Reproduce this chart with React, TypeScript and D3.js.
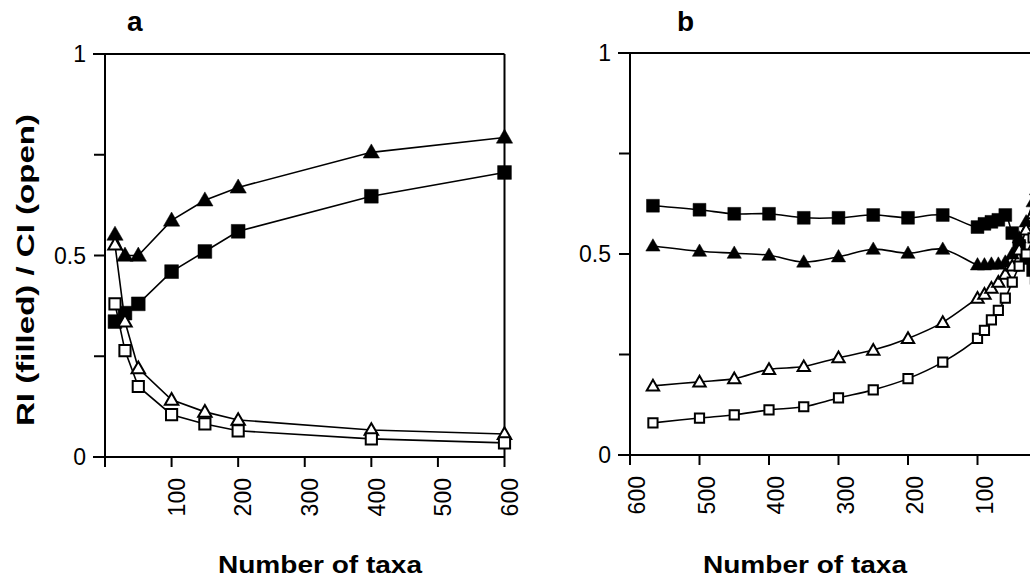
import { useEffect, useRef } from 'react';
import * as d3 from 'd3';

// panel a: taxa sampled upward
const taxaA = [15, 30, 50, 100, 150, 200, 400, 600];
const riTriA = [0.552, 0.5, 0.5, 0.587, 0.637, 0.669, 0.756, 0.793];
const riSqA = [0.336, 0.357, 0.38, 0.46, 0.51, 0.56, 0.647, 0.706];
const ciTriA = [0.527, 0.336, 0.22, 0.142, 0.112, 0.092, 0.067, 0.057];
const ciSqA = [0.38, 0.264, 0.175, 0.105, 0.082, 0.065, 0.045, 0.035];

// panel b: taxa removed downward
const taxaB = [567, 500, 450, 400, 350, 300, 250, 200, 150, 100, 90, 80, 70, 60, 50, 40, 30, 20, 15];
const riSqB = [0.62, 0.61, 0.6, 0.6, 0.59, 0.59, 0.597, 0.59, 0.597, 0.567, 0.575, 0.58, 0.585, 0.597, 0.552, 0.52, 0.49, 0.46, 0.44];
const riTriB = [0.52, 0.507, 0.502, 0.497, 0.48, 0.493, 0.512, 0.502, 0.512, 0.473, 0.473, 0.475, 0.475, 0.48, 0.5, 0.54, 0.58, 0.63, 0.66];
const ciTriB = [0.172, 0.182, 0.19, 0.213, 0.22, 0.242, 0.261, 0.29, 0.33, 0.39, 0.4, 0.415, 0.43, 0.45, 0.47, 0.51, 0.56, 0.6, 0.64];
const ciSqB = [0.08, 0.092, 0.1, 0.112, 0.12, 0.142, 0.162, 0.19, 0.231, 0.29, 0.31, 0.336, 0.36, 0.39, 0.43, 0.47, 0.5, 0.54, 0.57];

const yTicks = [0, 0.25, 0.5, 0.75, 1];
const yTickLabels = ['0', '', '0.5', '', '1'];
const xTicks = [0, 100, 200, 300, 400, 500, 600];
const xTickLabels = ['', '100', '200', '300', '400', '500', '600'];

const FONT = 'Liberation Sans, Arial, Helvetica, sans-serif';

export default function App() {
  const svgRef = useRef<SVGSVGElement>(null);

  useEffect(() => {
    const svg = d3.select(svgRef.current);
    svg.selectAll('*').remove();

    const drawPanel = (p: any) => {
      const g = svg.append('g');
      const x = d3.scaleLinear().domain(p.xDomain).range(p.xRange);
      const y = d3.scaleLinear().domain([0, 1]).range(p.yRange);
      const x0 = p.xRange[0];
      const xR = p.xRange[1];
      const yB = p.yRange[0];
      const yT = p.yRange[1];

      // frame
      const frame = g.append('g').attr('stroke', '#000').attr('stroke-width', 2).attr('fill', 'none');
      frame.append('line').attr('x1', x0).attr('x2', x0).attr('y1', yT).attr('y2', yB + 10);
      frame.append('line').attr('x1', x0 - 12).attr('x2', xR).attr('y1', yB).attr('y2', yB);
      frame.append('line').attr('x1', x0 - 12).attr('x2', xR).attr('y1', yT).attr('y2', yT);
      frame.append('line').attr('x1', xR).attr('x2', xR).attr('y1', yT).attr('y2', yB);

      // y ticks
      yTicks.forEach((t, i) => {
        frame.append('line').attr('x1', x0 - 11).attr('x2', x0).attr('y1', y(t)).attr('y2', y(t));
        if (yTickLabels[i]) {
          g.append('text')
            .attr('x', x0 - 19).attr('y', y(t)).attr('dy', '0.36em')
            .attr('text-anchor', 'end')
            .attr('font-family', FONT).attr('font-size', 23)
            .text(yTickLabels[i]);
        }
      });

      // x ticks
      xTicks.forEach((t, i) => {
        frame.append('line').attr('x1', x(t)).attr('x2', x(t)).attr('y1', yB).attr('y2', yB + 10);
        if (xTickLabels[i]) {
          g.append('text')
            .attr('transform', `translate(${x(t) + p.labelShift}, ${yB + 21}) rotate(-90)`)
            .attr('dy', '0.36em')
            .attr('text-anchor', 'end')
            .attr('font-family', FONT).attr('font-size', 23)
            .text(xTickLabels[i]);
        }
      });

      // series
      const line = d3.line<[number, number]>()
        .x(d => x(d[0]))
        .y(d => y(d[1]))
        .curve(p.curve);

      p.series.forEach((s: any) => {
        const pts: [number, number][] = p.taxa.map((t: number, i: number) => [t, s.values[i]]);
        g.append('path')
          .attr('d', line(pts))
          .attr('fill', 'none')
          .attr('stroke', '#000')
          .attr('stroke-width', 1.6);
      });

      p.series.forEach((s: any) => {
        const sym = d3.symbol().type(s.shape === 'tri' ? d3.symbolTriangle : d3.symbolSquare).size(s.size);
        g.append('g').selectAll('path')
          .data(p.taxa.map((t: number, i: number) => [t, s.values[i]]))
          .enter()
          .append('path')
          .attr('transform', (d: any) => `translate(${x(d[0])}, ${y(d[1]) + (s.shape === 'tri' ? 1 : 0)})`)
          .attr('d', sym() as string)
          .attr('fill', s.filled ? '#000' : '#fff')
          .attr('stroke', '#000')
          .attr('stroke-width', s.filled ? 0.5 : 2);
      });

      // titles
      g.append('text')
        .attr('x', p.titleX).attr('y', 573)
        .attr('text-anchor', 'middle')
        .attr('font-family', FONT).attr('font-weight', 'bold').attr('font-size', 24)
        .attr('textLength', 204).attr('lengthAdjust', 'spacingAndGlyphs')
        .text('Number of taxa');

      g.append('text')
        .attr('x', p.letterX).attr('y', 31)
        .attr('font-family', FONT).attr('font-weight', 'bold').attr('font-size', 28)
        .text(p.letter);
    };

    drawPanel({
      letter: 'a',
      letterX: 127,
      titleX: 320,
      xDomain: [0, 600],
      xRange: [105, 504.5],
      yRange: [457, 54],
      labelShift: 5,
      curve: d3.curveLinear,
      taxa: taxaA,
      series: [
        { values: riTriA, shape: 'tri', filled: true, size: 115 },
        { values: riSqA, shape: 'sq', filled: true, size: 190 },
        { values: ciTriA, shape: 'tri', filled: false, size: 78 },
        { values: ciSqA, shape: 'sq', filled: false, size: 125 },
      ],
    });

    drawPanel({
      letter: 'b',
      letterX: 677,
      titleX: 805,
      xDomain: [600, 0],
      xRange: [630, 1047],
      yRange: [455, 53],
      labelShift: 7,
      curve: d3.curveCatmullRom.alpha(0.5),
      taxa: taxaB,
      series: [
        { values: riSqB, shape: 'sq', filled: true, size: 165 },
        { values: riTriB, shape: 'tri', filled: true, size: 88 },
        { values: ciTriB, shape: 'tri', filled: false, size: 66 },
        { values: ciSqB, shape: 'sq', filled: false, size: 85 },
      ],
    });

    // shared y title
    svg.append('text')
      .attr('transform', 'translate(34, 270) rotate(-90)')
      .attr('text-anchor', 'middle')
      .attr('font-family', FONT).attr('font-weight', 'bold').attr('font-size', 24)
      .attr('textLength', 312).attr('lengthAdjust', 'spacingAndGlyphs')
      .text('RI (filled) / CI (open)');
  }, []);

  return (
    <svg
      ref={svgRef}
      width={1030}
      height={578}
      style={{ position: 'absolute', left: 0, top: 0, background: '#fff' }}
    />
  );
}
